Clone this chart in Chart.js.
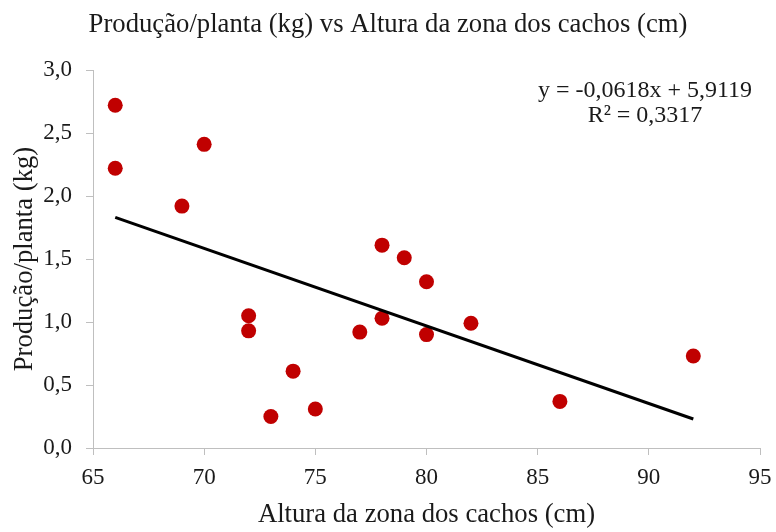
<!DOCTYPE html>
<html>
<head>
<meta charset="utf-8">
<script src="https://cdn.jsdelivr.net/npm/chart.js@4/dist/chart.umd.min.js"></script>
<style>
  html, body { margin: 0; padding: 0; background: #fff; }
  #wrap { width: 776px; height: 532px; }
</style>
</head>
<body>
<div id="wrap"><canvas id="c" width="776" height="532"></canvas></div>
<script>
const alturaCm = [66, 66, 70, 69, 72, 72, 74, 73, 75, 77, 78, 78, 79, 80, 80, 82, 86, 92];
const producaoKg = [2.72, 2.22, 2.41, 1.92, 1.05, 0.93, 0.61, 0.25, 0.31, 0.92, 1.61, 1.03, 1.51, 1.32, 0.90, 0.99, 0.37, 0.73];
const trendX = [66, 92];
const trendY = [1.83, 0.23];
const equationLines = ['y = -0,0618x + 5,9119', 'R\u00B2 = 0,3317'];
const xTicks = [65, 70, 75, 80, 85, 90, 95];
const yTicks = [0, 0.5, 1, 1.5, 2, 2.5, 3];

const FONT = '"Liberation Serif", "Times New Roman", serif';
const TXT = '#1a1a1a';
const AXIS = '#bfbfbf';

const scatterPts = alturaCm.map((x, i) => ({ x: x, y: producaoKg[i] }));
const trendPts = trendX.map((x, i) => ({ x: x, y: trendY[i] }));

const equationPlugin = {
  id: 'equation',
  afterDraw(chart) {
    const { ctx, chartArea } = chart;
    ctx.save();
    ctx.font = '24px ' + FONT;
    ctx.fillStyle = TXT;
    ctx.textAlign = 'center';
    ctx.textBaseline = 'middle';
    const cx = chartArea.right - 115;
    ctx.fillText(equationLines[0], cx, chartArea.top + 21);
    ctx.fillText(equationLines[1], cx, chartArea.top + 46);
    ctx.restore();
  }
};

new Chart(document.getElementById('c'), {
  type: 'scatter',
  data: {
    datasets: [
      {
        label: 'Linear',
        data: trendPts,
        showLine: true,
        borderColor: '#000000',
        borderWidth: 3,
        pointRadius: 0,
        fill: false
      },
      {
        label: 'Produção/planta',
        data: scatterPts,
        backgroundColor: '#C00000',
        borderWidth: 0,
        pointRadius: 7.5,
        pointHoverRadius: 7.5
      }
    ]
  },
  options: {
    responsive: false,
    animation: false,
    events: [],
    layout: { padding: 0 },
    plugins: {
      legend: { display: false },
      tooltip: { enabled: false },
      title: {
        display: true,
        text: 'Produção/planta (kg) vs Altura da zona dos cachos (cm)',
        color: TXT,
        font: { family: FONT, size: 26.7, weight: 'normal' },
        padding: { top: 9, bottom: 29 }
      }
    },
    scales: {
      x: {
        type: 'linear',
        min: 65,
        max: 95,
        afterBuildTicks(scale) { scale.ticks = xTicks.map(v => ({ value: v })); },
        afterFit(scale) { scale.height = 84; scale.paddingRight = 16; },
        ticks: {
          color: TXT,
          font: { family: FONT, size: 23 },
          padding: 9,
          maxRotation: 0,
          callback: v => String(v)
        },
        grid: { display: true, drawOnChartArea: false, drawTicks: true, tickLength: 7, color: AXIS, lineWidth: 1 },
        border: { display: true, color: AXIS, width: 1 },
        title: {
          display: true,
          text: 'Altura da zona dos cachos (cm)',
          color: TXT,
          font: { family: FONT, size: 26.7 },
          padding: { top: 0, bottom: 1 }
        }
      },
      y: {
        type: 'linear',
        min: 0,
        max: 3,
        afterBuildTicks(scale) { scale.ticks = yTicks.map(v => ({ value: v })); },
        afterFit(scale) { scale.width = 93; },
        ticks: {
          color: TXT,
          font: { family: FONT, size: 23 },
          padding: 14,
          callback: v => v.toFixed(1).replace('.', ',')
        },
        grid: { display: true, drawOnChartArea: false, drawTicks: true, tickLength: 7, color: AXIS, lineWidth: 1 },
        border: { display: true, color: AXIS, width: 1 },
        title: {
          display: true,
          text: 'Produção/planta (kg)',
          color: TXT,
          font: { family: FONT, size: 26.7 },
          padding: { top: 9, bottom: 0 }
        }
      }
    }
  },
  plugins: [equationPlugin]
});
</script>
</body>
</html>
